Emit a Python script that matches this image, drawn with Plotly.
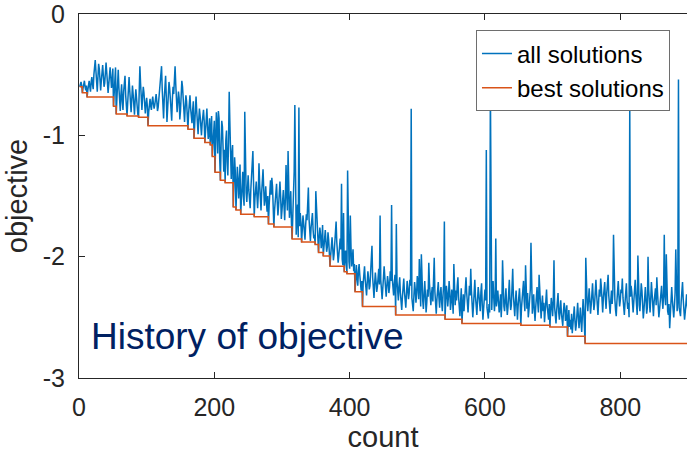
import numpy as np
import plotly.graph_objects as go

# Objective value of every evaluated solution, in evaluation order (count 1..900)
objective_1_300 = [
    -0.60, -0.58, -0.56, -0.59, -0.65, -0.61, -0.57, -0.55, -0.60, -0.63,
    -0.59, -0.685, -0.63, -0.58, -0.55, -0.60, -0.64, -0.56, -0.52, -0.58,
    -0.62, -0.50, -0.40, -0.38, -0.47, -0.58, -0.64, -0.52, -0.41, -0.45,
    -0.56, -0.63, -0.55, -0.46, -0.42, -0.51, -0.60, -0.57, -0.44, -0.40,
    -0.48, -0.59, -0.65, -0.58, -0.49, -0.44, -0.52, -0.61, -0.55, -0.45,
    -0.76, -0.62, -0.48, -0.44, -0.825, -0.70, -0.55, -0.46, -0.61, -0.78,
    -0.80, -0.66, -0.58, -0.72, -0.79, -0.64, -0.53, -0.51, -0.67, -0.76,
    -0.84, -0.73, -0.60, -0.52, -0.63, -0.77, -0.81, -0.70, -0.59, -0.66,
    -0.78, -0.83, -0.71, -0.62, -0.69, -0.80, -0.83, -0.85, -0.58, -0.43,
    -0.57, -0.72, -0.79, -0.68, -0.60, -0.65, -0.77, -0.82, -0.74, -0.69,
    -0.76, -0.92, -0.81, -0.73, -0.70, -0.76, -0.79, -0.72, -0.68, -0.74,
    -0.78, -0.75, -0.69, -0.66, -0.72, -0.80, -0.77, -0.71, -0.63, -0.58,
    -0.49, -0.43, -0.62, -0.80, -0.86, -0.70, -0.55, -0.51, -0.68, -0.89,
    -0.78, -0.64, -0.56, -0.61, -0.75, -0.84, -0.88, -0.70, -0.60, -0.66,
    -0.52, -0.43, -0.58, -0.77, -0.81, -0.73, -0.64, -0.69, -0.87, -0.80,
    -0.65, -0.55, -0.60, -0.74, -0.84, -0.89, -0.76, -0.67, -0.72, -0.81,
    -0.95, -0.82, -0.70, -0.67, -0.78, -0.88, -0.90, -0.79, -0.72, -1.025,
    -0.85, -0.70, -0.68, -0.80, -0.93, -0.99, -0.87, -0.78, -0.84, -0.95,
    -1.00, -0.90, -0.82, -0.79, -0.88, -1.06, -0.97, -0.83, -0.78, -0.92,
    -1.03, -0.98, -0.86, -1.08, -0.95, -0.84, -1.175, -1.02, -0.90, -0.88,
    -1.305, -1.10, -0.81, -0.92, -1.15, -0.80, -0.86, -1.20, -1.37, -1.08,
    -0.88, -0.93, -1.18, -1.30, -1.12, -1.39, -1.04, -0.96, -1.22, -1.33,
    -1.05, -0.64, -0.90, -1.28, -1.36, -1.15, -1.08, -1.59, -1.34, -1.18,
    -1.30, -1.615, -1.45, -1.26, -1.35, -1.52, -1.40, -1.24, -1.65, -1.48,
    -1.38, -1.30, -1.50, -1.58, -0.805, -1.36, -1.47, -1.55, -1.42, -1.33,
    -1.45, -1.56, -1.60, -1.44, -1.35, -1.28, -1.13, -1.40, -1.67, -1.52,
    -1.45, -1.38, -1.50, -1.60, -1.48, -1.23, -1.40, -1.56, -1.62, -1.47,
    -1.35, -1.28, -1.44, -1.58, -1.52, -1.42, -1.55, -1.63, -1.50, -1.73,
    -1.58, -1.45, -1.37, -1.49, -1.35, -1.42, -1.60, -1.755, -1.62, -1.51,
    -1.44, -1.40, -1.55, -1.66, -1.58, -1.46, -1.38, -1.50, -1.69, -1.62,
]
objective_301_600 = [
    -1.53, -1.45, -1.58, -1.70, -1.52, -1.245, -1.48, -1.62, -1.13, -1.55,
    -1.68, -1.59, -1.46, -1.72, -1.855, -1.66, -1.50, -1.30, -0.75, -1.70,
    -1.82, -1.68, -1.57, -1.84, -0.77, -1.75, -1.64, -1.72, -1.88, -1.78,
    -1.66, -1.72, -1.83, -1.86, -1.74, -1.65, -1.70, -1.58, -1.43, -1.69,
    -1.80, -1.87, -1.76, -1.68, -1.64, -1.78, -1.85, -1.82, -1.90, -1.46,
    -1.62, -1.75, -1.86, -1.965, -1.84, -1.76, -1.82, -1.93, -1.87, -1.74,
    -1.995, -1.90, -1.84, -1.78, -1.88, -1.96, -1.92, -1.80, -1.86, -1.95,
    -2.08, -1.99, -1.90, -1.84, -1.93, -2.03, -1.98, -1.86, -1.80, -1.71,
    -1.88, -1.97, -2.05, -1.99, -1.90, -1.85, -1.94, -1.40, -2.02, -2.07,
    -1.64, -2.125, -2.02, -1.95, -2.05, -2.14, -1.29, -1.96, -2.04, -2.10,
    -1.66, -1.92, -2.08, -2.02, -1.94, -2.12, -2.06, -2.29, -2.15, -2.07,
    -2.18, -2.24, -2.12, -2.06, -2.15, -2.26, -2.28, -2.20, -2.41, -2.22,
    -2.14, -2.08, -2.19, -2.30, -2.32, -2.21, -2.12, -2.18, -2.27, -2.24,
    -2.15, -2.09, -1.91, -2.17, -2.31, -2.34, -2.22, -2.13, -2.20, -2.29,
    -2.25, -2.16, -2.10, -2.23, -1.66, -2.19, -2.30, -2.35, -2.26, -2.14,
    -2.08, -2.17, -2.28, -2.33, -2.24, -2.16, -2.21, -2.30, -2.25, -2.12,
    -2.20, -1.575, -2.18, -2.26, -2.32, -2.22, -2.15, -2.48, -1.73, -2.20,
    -2.28, -2.36, -2.24, -2.17, -2.30, -2.40, -2.44, -2.33, -2.22, -2.18,
    -2.29, -2.38, -2.42, -2.31, -2.20, -2.26, -2.35, -2.30, -2.19, -2.24,
    -0.78, -2.34, -2.40, -2.45, -2.32, -2.21, -2.27, -2.38, -2.30, -2.16,
    -2.23, -2.35, -2.02, -2.28, -2.41, -1.98, -2.24, -2.36, -2.43, -2.30,
    -2.20, -2.32, -2.46, -2.38, -2.27, -2.33, -2.05, -2.22, -2.36, -2.40,
    -2.31, -2.25, -2.37, -2.19, -2.01, -2.29, -2.39, -2.47, -2.35, -2.26,
    -2.21, -2.34, -2.42, -2.30, -2.25, -2.38, -2.45, -2.32, -2.22, -1.71,
    -2.515, -2.36, -2.24, -2.30, -2.41, -2.33, -2.20, -2.29, -2.44, -2.38,
    -2.27, -2.35, -2.47, -2.06, -2.31, -2.40, -2.28, -2.36, -2.24, -2.17,
    -2.33, -2.42, -2.49, -2.37, -2.26, -2.55, -2.40, -2.31, -2.45, -2.34,
    -2.22, -2.17, -2.30, -2.43, -2.46, -2.35, -2.24, -2.32, -2.10, -2.28,
    -2.39, -2.50, -2.41, -2.26, -2.19, -2.33, -2.44, -2.48, -2.36, -2.25,
    -2.31, -2.38, -2.45, -2.29, -2.22, -2.40, -2.52, -2.43, -2.34, -2.27,
]
objective_601_900 = [
    -2.36, -1.12, -2.42, -2.47, -2.51, -2.39, -2.46, -0.60, -2.38, -2.44,
    -2.30, -2.20, -2.34, -2.45, -2.36, -1.85, -2.41, -2.33, -2.28, -2.37,
    -2.46, -2.40, -2.31, -2.50, -2.38, -2.03, -2.30, -2.41, -2.45, -2.35,
    -2.26, -2.39, -2.48, -2.42, -2.30, -2.19, -2.36, -2.44, -2.40, -2.29,
    -2.10, -2.32, -2.43, -2.49, -2.37, -2.28, -2.39, -2.52, -2.41, -2.33,
    -2.26, -2.38, -2.565, -2.42, -2.34, -2.28, -2.20, -2.37, -2.45, -2.07,
    -2.35, -2.43, -2.30, -2.50, -2.44, -2.36, -2.27, -1.885, -2.40, -2.47,
    -2.39, -2.31, -2.44, -2.53, -2.42, -2.33, -2.25, -2.38, -2.46, -2.15,
    -2.34, -2.42, -2.51, -2.40, -2.32, -2.45, -2.38, -2.54, -2.43, -2.30,
    -2.27, -2.41, -2.48, -2.52, -2.39, -2.58, -2.45, -2.34, -2.40, -2.49,
    -2.36, -2.03, -2.42, -2.50, -2.55, -2.44, -2.37, -2.30, -2.46, -2.52,
    -2.43, -2.36, -2.47, -2.55, -2.57, -2.45, -2.38, -2.42, -2.53, -2.48,
    -2.40, -2.655, -2.50, -2.44, -2.58, -2.52, -2.60, -2.47, -2.63, -2.55,
    -2.46, -2.41, -2.53, -2.61, -2.56, -2.45, -2.38, -2.49, -2.59, -2.51,
    -2.42, -2.54, -2.62, -2.48, -2.35, -2.44, -2.57, -2.715, -2.01, -2.30,
    -2.38, -2.45, -2.33, -2.26, -2.36, -2.47, -2.40, -2.29, -2.22, -2.35,
    -2.44, -2.39, -2.28, -2.19, -2.31, -2.42, -2.48, -2.37, -2.27, -2.33,
    -2.18, -2.25, -2.38, -2.46, -2.34, -2.27, -2.21, -2.35, -2.43, -2.30,
    -2.24, -2.15, -2.32, -2.42, -2.47, -2.36, -2.28, -2.39, -2.30, -1.82,
    -2.26, -2.35, -2.44, -2.49, -2.37, -2.23, -2.20, -2.32, -2.41, -2.36,
    -2.27, -2.30, -2.18, -2.34, -2.45, -2.48, -2.38, -2.25, -2.22, -2.36,
    -2.43, -2.38, -2.50, -0.76, -2.33, -2.24, -2.29, -2.41, -2.46, -2.37,
    -2.28, -2.19, -2.31, -2.43, -2.48, -1.99, -2.34, -2.40, -2.45, -2.32,
    -2.22, -2.28, -2.39, -2.51, -2.44, -2.33, -2.25, -2.36, -2.47, -2.42,
    -2.00, -2.27, -2.38, -2.46, -2.35, -2.21, -2.30, -2.42, -2.49, -2.37,
    -2.31, -2.26, -2.40, -2.17, -2.29, -2.38, -2.50, -2.44, -2.35, -2.28,
    -2.24, -2.36, -2.43, -2.30, -1.82, -2.33, -2.40, -1.98, -2.35, -2.45,
    -2.48, -2.39, -2.59, -2.44, -2.32, -2.25, -2.36, -2.47, -2.50, -2.41,
    -2.30, -1.94, -2.38, -2.45, -2.36, -0.54, -2.42, -2.47, -2.49, -2.37,
    -2.29, -2.21, -2.35, -2.44, -2.52, -2.46, -2.38, -2.31, -2.40, -2.45,
]

x_ticks = [0, 200, 400, 600, 800]
y_ticks = [-3, -2, -1, 0]
y_tick_labels = ["-3", "-2", "-1", "0"]

all_solutions = np.array(objective_1_300 + objective_301_600 + objective_601_900)
count = np.arange(1, len(all_solutions) + 1)
# running best (minimum) objective found so far
best_solutions = np.minimum.accumulate(all_solutions)

FONT = "Liberation Sans, Arial, Helvetica, sans-serif"
AXIS_COLOR = "#262626"

fig = go.Figure()
fig.add_trace(go.Scatter(
    x=count, y=all_solutions, mode="lines", name="all solutions",
    line=dict(color="#0072BD", width=1.5),
))
fig.add_trace(go.Scatter(
    x=count, y=best_solutions, mode="lines", name="best solutions",
    line=dict(color="#D95319", width=1.5, shape="hv"),
))

fig.add_annotation(
    text="History of objective", xref="paper", yref="paper",
    x=0.017, y=0.115, xanchor="left", yanchor="middle", showarrow=False,
    font=dict(family=FONT, size=37, color="#002162"),
)

fig.update_layout(
    width=687, height=460,
    margin=dict(l=79, r=0, t=14, b=82),
    paper_bgcolor="white", plot_bgcolor="white",
    font=dict(family=FONT, color=AXIS_COLOR),
    legend=dict(
        x=0.972, y=0.955, xanchor="right", yanchor="top",
        bgcolor="white", bordercolor="#6e6e6e", borderwidth=1,
        font=dict(family=FONT, size=24, color="black"),
        tracegroupgap=0,
    ),
    xaxis=dict(
        range=[0, 898.6], tickvals=x_ticks, ticks="inside", ticklen=6,
        tickcolor=AXIS_COLOR, showline=True, linecolor=AXIS_COLOR, linewidth=1,
        mirror="ticks", showgrid=False, zeroline=False,
        tickfont=dict(family=FONT, size=25, color=AXIS_COLOR),
        ticklabelstandoff=7,
        title=dict(text="count", font=dict(family=FONT, size=29, color=AXIS_COLOR), standoff=6),
    ),
    yaxis=dict(
        range=[-3, 0], tickvals=y_ticks, ticktext=y_tick_labels, ticks="inside",
        ticklen=6, tickcolor=AXIS_COLOR, showline=True, linecolor=AXIS_COLOR,
        linewidth=1, mirror=False, showgrid=False, zeroline=False,
        tickfont=dict(family=FONT, size=25, color=AXIS_COLOR),
        ticklabelstandoff=8, ticklabeloverflow="allow",
        title=dict(text="objective", font=dict(family=FONT, size=29, color=AXIS_COLOR), standoff=6),
    ),
)

fig.write_html("out.html")
